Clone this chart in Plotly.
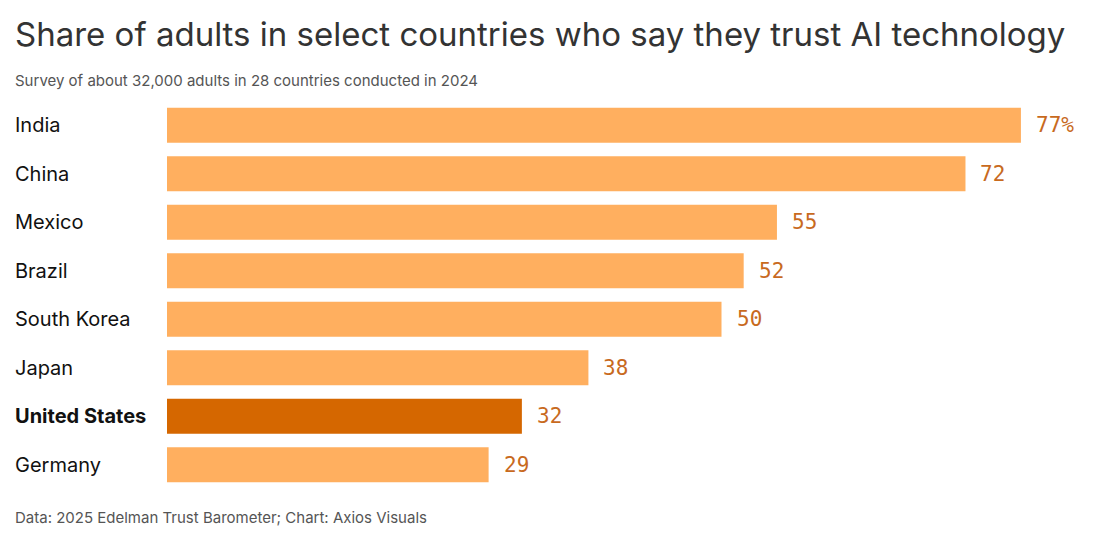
import plotly.graph_objects as go

countries = ["India", "China", "Mexico", "Brazil", "South Korea", "Japan", "United States", "Germany"]
values = [77, 72, 55, 52, 50, 38, 32, 29]
value_labels = ["77%", "72", "55", "52", "50", "38", "32", "29"]
highlight = "United States"

LIGHT = "#FFAF5F"
DARK = "#D56700"
TEXT_ORANGE = "#C86A1E"

OFF = 8  # page body margin
W, H = 1094 - OFF, 542 - OFF
ML, MR, MT, MB = 167 - OFF, 10, 101 - OFF, 53
px_per_unit = 11.09
plot_w = W - ML - MR
plot_h = H - MT - MB
xmax = plot_w / px_per_unit
LEFT_PX = 12.5

colors = [DARK if c == highlight else LIGHT for c in countries]

def cont_y(py):
    return (H - MB - (py - OFF)) / plot_h

def cont_x(px):
    return ((px - OFF) - ML) / plot_w

fig = go.Figure()
fig.add_trace(go.Bar(
    x=values, y=countries, orientation="h",
    marker=dict(color=colors, line=dict(width=0)),
    width=0.72, hoverinfo="skip",
))

for c, v, lab in zip(countries, values, value_labels):
    fig.add_annotation(
        x=v, y=c, xref="x", yref="y", text=lab, showarrow=False,
        xanchor="left", yanchor="middle", xshift=13,
        font=dict(family="DejaVu Sans Mono, Liberation Mono, monospace", size=21, color=TEXT_ORANGE),
    )
    fig.add_annotation(
        x=cont_x(LEFT_PX), y=c, xref="paper", yref="y",
        text=f"<b>{c}</b>" if c == highlight else c, showarrow=False,
        xanchor="left", yanchor="middle",
        font=dict(family="Inter, Noto Sans, sans-serif", size=20, color="#111111"),
    )

fig.add_annotation(
    x=cont_x(LEFT_PX), y=cont_y(34), xref="paper", yref="paper", xanchor="left", yanchor="middle",
    text="Share of adults in select countries who say they trust AI technology",
    showarrow=False, font=dict(family="Inter, Noto Sans, sans-serif", size=33, color="#333333"),
)
fig.add_annotation(
    x=cont_x(LEFT_PX), y=cont_y(81), xref="paper", yref="paper", xanchor="left", yanchor="middle",
    text="Survey of about 32,000 adults in 28 countries conducted in 2024", showarrow=False,
    font=dict(family="Inter, Noto Sans, sans-serif", size=15, color="#555555"),
)
fig.add_annotation(
    x=cont_x(LEFT_PX), y=cont_y(517), xref="paper", yref="paper", xanchor="left", yanchor="middle",
    text="Data: 2025 Edelman Trust Barometer; Chart: Axios Visuals", showarrow=False,
    font=dict(family="Inter, Noto Sans, sans-serif", size=15, color="#555555"),
)

fig.update_layout(
    width=W, height=H,
    margin=dict(l=ML, r=MR, t=MT, b=MB),
    paper_bgcolor="white", plot_bgcolor="white",
    showlegend=False,
    xaxis=dict(range=[0, xmax], visible=False, fixedrange=True),
    yaxis=dict(categoryorder="array", categoryarray=countries[::-1], range=[-0.5, 7.5],
               showticklabels=False, showgrid=False, zeroline=False, showline=False, fixedrange=True),
)

fig.write_html("out.html", config={"displayModeBar": False})
